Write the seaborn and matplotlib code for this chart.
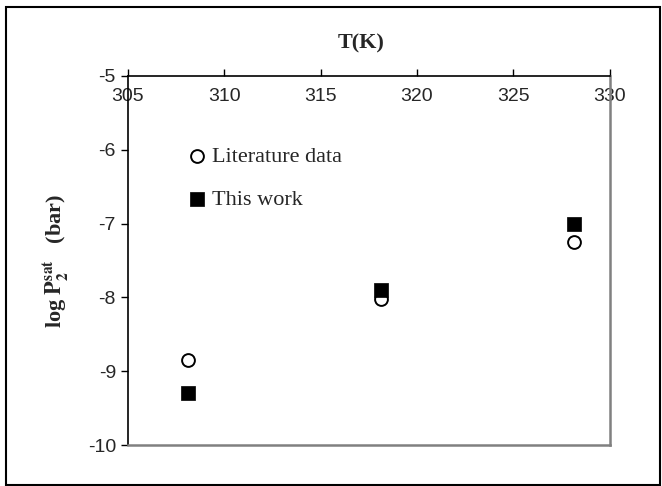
import numpy as np
import pandas as pd
import matplotlib
matplotlib.use("Agg")
import matplotlib.pyplot as plt
import seaborn as sns
from matplotlib.patches import Rectangle

# DATA
temps = [308.15, 318.15, 328.15]
lit_logp = [-8.85, -8.02, -7.25]
work_logp = [-9.30, -7.90, -7.00]
x_ticks = [305, 310, 315, 320, 325, 330]
y_ticks = [-5, -6, -7, -8, -9, -10]

sns.set_style("white")
plt.rcParams["font.family"] = ["Liberation Sans", "DejaVu Sans"]
plt.rcParams["mathtext.fontset"] = "stix"

df_lit = pd.DataFrame({"T": temps, "logP": lit_logp})
df_work = pd.DataFrame({"T": temps, "logP": work_logp})

fig = plt.figure(figsize=(6.62, 4.86), dpi=100)
ax = fig.add_axes([0.193, 0.084, 0.728, 0.760])

sns.scatterplot(data=df_lit, x="T", y="logP", ax=ax, marker="o", s=85,
                facecolor="white", edgecolor="black", linewidth=1.4,
                label="Literature data")
sns.scatterplot(data=df_work, x="T", y="logP", ax=ax, marker="s", s=110,
                color="black", edgecolor="black", linewidth=0.5,
                label="This work")

ax.set_xlim(305, 330)
ax.set_ylim(-10, -5)
ax.set_xticks(x_ticks)
ax.set_yticks(y_ticks)
ax.set_yticklabels([str(v) for v in y_ticks])

# x axis sits on top (y = -5), labels drawn just under it
ax.tick_params(axis="x", top=True, bottom=False, labeltop=True, labelbottom=False,
               direction="out", length=5, width=1, color="black", pad=-26,
               labelsize=14)
ax.tick_params(axis="y", left=True, direction="out", length=5, width=1,
               color="black", labelsize=14)

ax.spines["top"].set_color("black")
ax.spines["left"].set_color("black")
ax.spines["top"].set_linewidth(1.2)
ax.spines["left"].set_linewidth(1.2)
ax.spines["right"].set_color("#808080")
ax.spines["bottom"].set_color("#808080")
ax.spines["right"].set_linewidth(1.8)
ax.spines["bottom"].set_linewidth(1.8)

ax.set_xlabel("")
ax.set_ylabel(r"log $\mathbf{P_2^{sat}}$   (bar)", fontsize=16, fontweight="bold",
              family=["Liberation Serif", "DejaVu Serif"], labelpad=12)
fig.text(0.545, 0.91, "T(K)", ha="center", va="center", fontsize=16,
         fontweight="bold", family=["Liberation Serif", "DejaVu Serif"])

ax.legend(loc="upper left", bbox_to_anchor=(0.125, 0.808), frameon=False,
          prop={"family": "Liberation Serif", "size": 16}, borderpad=0,
          borderaxespad=0, handlelength=0.8, handletextpad=0.3,
          labelspacing=1.0)

# outer chart border
fig.patches.append(Rectangle((6 / 662, 1 / 486), 654 / 662, 478 / 486,
                             transform=fig.transFigure, fill=False,
                             edgecolor="black", linewidth=1.5))

fig.savefig("out.png", dpi=100)
